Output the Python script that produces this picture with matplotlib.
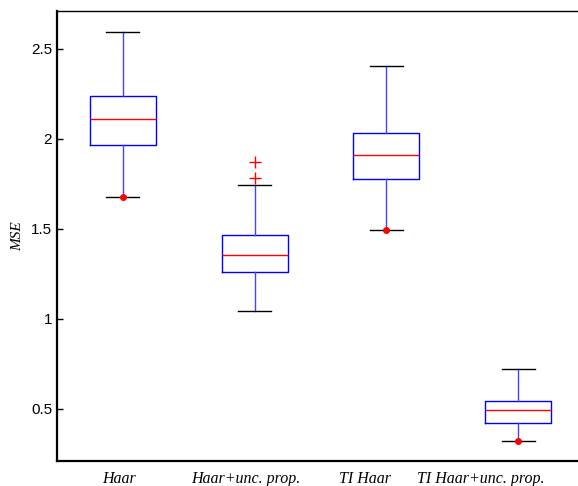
import matplotlib.pyplot as plt
import numpy as np

# box statistics
labels = ['Haar', 'Haar+unc. prop.', 'TI Haar', 'TI Haar+unc. prop.']
q1 = [1.967, 1.261, 1.778, 0.422]
med = [2.111, 1.356, 1.911, 0.494]
q3 = [2.239, 1.467, 2.033, 0.544]
whis_lo = [1.678, 1.044, 1.494, 0.322]
whis_hi = [2.594, 1.744, 2.406, 0.722]
outliers = [[], [1.872, 1.783], [], []]
low_dot = [True, False, True, True]  # red dot sitting on lower cap
# the original's labels drift left of their boxes
label_x = [0.97, 1.93, 2.84, 3.72]

stats = []
for i in range(len(labels)):
    stats.append(dict(med=med[i], q1=q1[i], q3=q3[i],
                      whislo=whis_lo[i], whishi=whis_hi[i],
                      fliers=outliers[i], label=labels[i]))

fig = plt.figure(figsize=(5.78, 4.86), dpi=100)
# axes runs past the right edge, like the cropped original
ax = fig.add_axes([57 / 578, 25 / 486, 527 / 578, 450 / 486])

pos = np.arange(1, len(labels) + 1)
ax.bxp(stats, positions=pos, widths=0.5, showfliers=True,
       boxprops=dict(color='blue', linewidth=1.0),
       whiskerprops=dict(color='#4444ff', linewidth=1.0),
       capprops=dict(color='black', linewidth=1.0),
       medianprops=dict(color='red', linewidth=1.0),
       flierprops=dict(marker='+', markeredgecolor='red', markersize=8,
                       markeredgewidth=1.0, linestyle='none'))

for i in range(len(labels)):
    if low_dot[i]:
        ax.plot(pos[i], whis_lo[i], 'o', color='red', markersize=4, zorder=5)

ax.set_xlim(0.5, 4.5)
ax.set_ylim(0.211, 2.711)
ax.set_yticks([0.5, 1, 1.5, 2, 2.5])
ax.set_yticklabels(['0.5', '1', '1.5', '2', '2.5'], family='Liberation Sans', fontsize=11)
ax.set_xticks([])
ax.tick_params(axis='y', direction='in', length=4, width=1)
ax.set_ylabel('MSE', family='Liberation Serif', style='italic', fontsize=11, labelpad=5)

# category names under the axis
trans = ax.get_xaxis_transform()
for i in range(len(labels)):
    ax.text(label_x[i], -0.048, labels[i], transform=trans, ha='center',
            va='baseline', family='Liberation Serif', style='italic',
            fontsize=11.5, clip_on=False)

ax.spines['left'].set_linewidth(1.6)
ax.spines['bottom'].set_linewidth(1.6)
ax.spines['top'].set_linewidth(1.0)
ax.spines['right'].set_linewidth(1.0)

fig.savefig('out.png', dpi=100)
